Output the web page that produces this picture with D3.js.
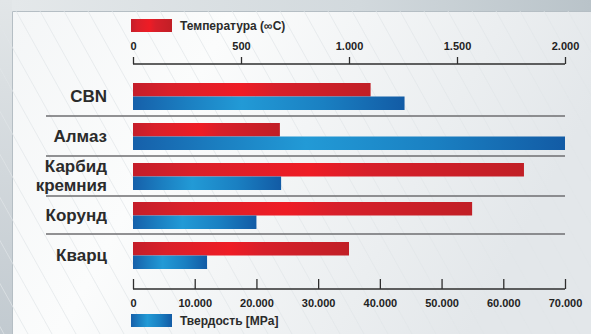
<!DOCTYPE html>
<html>
<head>
<meta charset="utf-8">
<script src="https://cdn.jsdelivr.net/npm/d3@7"></script>
<style>
  body { margin: 0; background: #fff; }
  svg { display: block; }
  .lbl { font-family: "Liberation Sans", Arial, sans-serif; font-weight: bold; font-size: 17px; fill: #2b2b2b; }
  .tick text { font-family: "Liberation Sans Narrow", "Liberation Sans", sans-serif; font-weight: bold; font-size: 11px; fill: #222; }
  .leg { font-family: "Liberation Sans Narrow", "Liberation Sans", sans-serif; font-weight: bold; font-size: 12px; fill: #2b2b2b; }
</style>
</head>
<body>
<svg id="chart" width="591" height="334"></svg>
<script>
var materials = [["CBN"], ["Алмаз"], ["Карбид", "кремния"], ["Корунд"], ["Кварц"]]
var temperature = [1100, 680, 1810, 1570, 1000]
var hardness = [44000, 70000, 24000, 20000, 12000]
var tempTicks = [0, 500, 1000, 1500, 2000]
var hardTicks = [0, 10000, 20000, 30000, 40000, 50000, 60000, 70000]

var svg = d3.select("#chart")
var W = 591, H = 334

var defs = svg.append("defs")
var bg = defs.append("linearGradient").attr("id", "topStrip")
bg.append("stop").attr("offset", "0").attr("stop-color", "#e4e8ea")
bg.append("stop").attr("offset", "0.6").attr("stop-color", "#d2d9dd")
bg.append("stop").attr("offset", "1").attr("stop-color", "#b9c3c9")
var lft = defs.append("linearGradient").attr("id", "leftStrip").attr("x2", 0).attr("y2", 1)
lft.append("stop").attr("offset", "0").attr("stop-color", "#e2e6e8")
lft.append("stop").attr("offset", "1").attr("stop-color", "#c2cad0")
var pan = defs.append("linearGradient").attr("id", "panel").attr("x1", 0).attr("y1", 0).attr("x2", 1).attr("y2", 0.3)
pan.append("stop").attr("offset", "0").attr("stop-color", "#f4f6f7")
pan.append("stop").attr("offset", "0.35").attr("stop-color", "#fbfcfc")
pan.append("stop").attr("offset", "1").attr("stop-color", "#e3e7ea")

var red = defs.append("linearGradient").attr("id", "red")
var redStops = [["0", "#c41e2a"], ["0.15", "#d9202a"], ["0.45", "#ee1c25"], ["0.6", "#d71f2a"], ["1", "#c11f26"]]
redStops.forEach(function(s){ red.append("stop").attr("offset", s[0]).attr("stop-color", s[1]) })
var blue = defs.append("linearGradient").attr("id", "blue")
var blueStops = [["0", "#1660aa"], ["0.2", "#1b7fc1"], ["0.4", "#229ad6"], ["0.7", "#1a80c2"], ["1", "#125ba5"]]
blueStops.forEach(function(s){ blue.append("stop").attr("offset", s[0]).attr("stop-color", s[1]) })

// background frame
svg.append("rect").attr("width", W).attr("height", H).attr("fill", "url(#leftStrip)")
svg.append("rect").attr("x", 12).attr("width", W - 12).attr("height", 11).attr("fill", "url(#topStrip)")
svg.append("rect").attr("x", 12).attr("y", 11).attr("width", W - 12).attr("height", H - 11).attr("fill", "url(#panel)")
svg.append("path").attr("d", "M12.5," + H + "V11.5H" + W).attr("fill", "none").attr("stroke", "#b5bec4").attr("stroke-width", 1)

// faint diagonal lines
var diag = svg.append("g").attr("stroke", "#e1e5e8").attr("stroke-width", 0.7)
for (var d = -200; d < 700; d += 24) {
  diag.append("line").attr("x1", d).attr("y1", 11).attr("x2", d + 180).attr("y2", H)
}

var x0 = 133, x1 = 565
var tScale = d3.scaleLinear().domain([0, 2000]).range([x0, x1])
var hScale = d3.scaleLinear().domain([0, 70000]).range([x0, x1])
var fmt = function(v){ return v === 0 ? "0" : d3.format(",")(v).replace(/,/g, ".") }

var rowY = [83, 123, 163, 202, 242]
var barH = 13.5

var rows = svg.append("g").selectAll("g").data(materials).enter().append("g")
  .attr("transform", function(d, i){ return "translate(0," + rowY[i] + ")" })

rows.append("rect")
  .attr("x", x0).attr("y", 0)
  .attr("width", function(d, i){ return tScale(temperature[i]) - x0 })
  .attr("height", barH).attr("fill", "url(#red)")
rows.append("rect")
  .attr("x", x0).attr("y", barH)
  .attr("width", function(d, i){ return hScale(hardness[i]) - x0 })
  .attr("height", barH).attr("fill", "url(#blue)")

rows.each(function(d){
  var t = d3.select(this).append("text").attr("class", "lbl").attr("text-anchor", "end")
  if (d.length == 1) {
    t.attr("x", 107).attr("y", 19).text(d[0])
  } else {
    t.append("tspan").attr("x", 107).attr("y", 9).text(d[0])
    t.append("tspan").attr("x", 107).attr("y", 28).text(d[1])
  }
})

// separators
var sepY = [116, 156, 196, 234]
svg.append("g").selectAll("line").data(sepY).enter().append("line")
  .attr("x1", 46).attr("x2", x1).attr("y1", function(d){ return d }).attr("y2", function(d){ return d })
  .attr("stroke", "#6e6e70").attr("stroke-width", 1.5)

// top axis
var topAxis = svg.append("g").attr("transform", "translate(0,64)")
  .call(d3.axisTop(tScale).tickValues(tempTicks).tickFormat(fmt).tickSize(7).tickPadding(7))
topAxis.select(".domain").attr("d", "M" + x0 + ",0H" + x1).attr("stroke", "#2e2e2e").attr("stroke-width", 1.3)
topAxis.selectAll(".tick line").attr("stroke", "#2e2e2e").attr("stroke-width", 1.3)

// bottom axis
var botAxis = svg.append("g").attr("transform", "translate(0,289)")
  .call(d3.axisBottom(hScale).tickValues(hardTicks).tickFormat(fmt).tickSize(-10).tickPadding(8))
botAxis.select(".domain").attr("d", "M" + x0 + ",0H" + x1).attr("stroke", "#2e2e2e").attr("stroke-width", 1.3)
botAxis.selectAll(".tick line").attr("stroke", "#2e2e2e").attr("stroke-width", 1.3)
botAxis.selectAll(".tick text").attr("dy", "0.9em")

// legends
svg.append("rect").attr("x", 131).attr("y", 19).attr("width", 41).attr("height", 13).attr("fill", "url(#red)")
svg.append("text").attr("class", "leg").attr("x", 180).attr("y", 30).text("Температура (∞C)")
svg.append("rect").attr("x", 131).attr("y", 314).attr("width", 41).attr("height", 13).attr("fill", "url(#blue)")
svg.append("text").attr("class", "leg").attr("x", 180).attr("y", 325).text("Твердость [MPa]")
</script>
</body>
</html>
